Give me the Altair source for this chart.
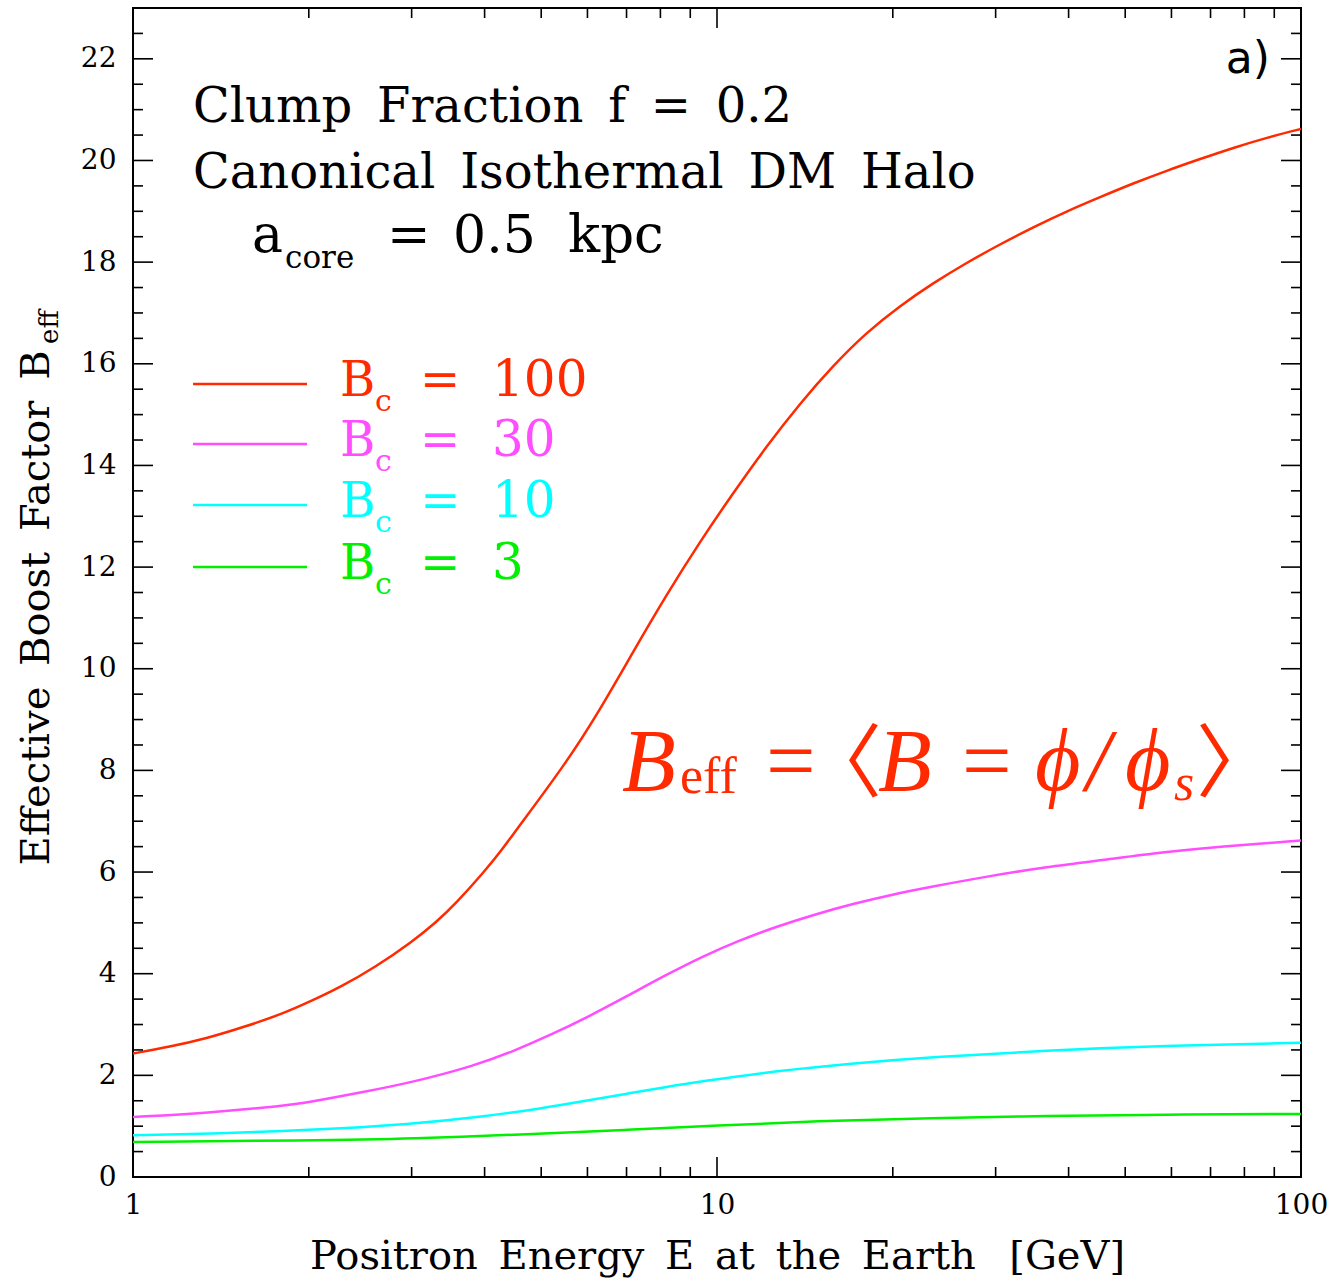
import altair as alt
import pandas as pd

# ---------------- curves: effective boost factor vs. positron energy ----------------
energy_100 = [1.0, 1.154, 1.341, 1.558, 1.812, 2.0, 2.27, 2.6, 3.0, 3.31, 3.57, 3.99, 4.27,
              4.54, 5.53, 6.31, 7.19, 8.2, 9.35, 10.66, 12.16, 13.87, 15.82, 18.04, 20.57,
              23.46, 26.77, 30.52, 34.81, 39.7, 45.3, 51.6, 58.9, 67.2, 76.6, 87.4, 100.0]
boost_100 = [2.43, 2.56, 2.73, 2.96, 3.22, 3.44, 3.74, 4.13, 4.62, 5.02, 5.38, 6.00, 6.42,
             6.84, 8.16, 9.20, 10.34, 11.46, 12.50, 13.46, 14.38, 15.22, 15.97, 16.62, 17.14,
             17.59, 17.99, 18.35, 18.69, 19.00, 19.28, 19.55, 19.80, 20.03, 20.25, 20.45, 20.62]

energy_30 = [1.0, 1.341, 1.812, 2.0, 2.45, 3.0, 3.85, 4.47, 5.2, 6.04, 7.02, 8.16, 9.49,
             10.88, 12.67, 14.75, 17.17, 19.98, 23.26, 29.2, 36.7, 46.1, 57.9, 72.7, 100.0]
boost_30 = [1.18, 1.26, 1.40, 1.47, 1.66, 1.86, 2.19, 2.47, 2.80, 3.16, 3.56, 3.97, 4.35,
            4.65, 4.93, 5.17, 5.38, 5.56, 5.71, 5.92, 6.10, 6.24, 6.39, 6.50, 6.62]

energy_10 = [1.0, 1.341, 2.0, 3.0, 3.99, 4.96, 6.04, 7.02, 8.16, 9.4, 12.67, 17.17, 23.26,
             36.7, 57.9, 100.0]
boost_10 = [0.82, 0.85, 0.92, 1.04, 1.19, 1.34, 1.51, 1.64, 1.77, 1.88, 2.09, 2.24, 2.36,
            2.49, 2.58, 2.64]

energy_3 = [1.0, 2.0, 3.0, 4.96, 7.02, 10.0, 14.75, 23.26, 36.7, 57.9, 100.0]
boost_3 = [0.69, 0.72, 0.75, 0.85, 0.93, 1.01, 1.10, 1.16, 1.20, 1.23, 1.24]

bc_values = ["100", "30", "10", "3"]
bc_colors = ["#ff2a00", "#ff4dff", "#00ffff", "#00f000"]

# ---------------- axis ticks ----------------
x_major = [1, 10, 100]
x_minor = [2, 3, 4, 5, 6, 7, 8, 9, 20, 30, 40, 50, 60, 70, 80, 90]
y_major = [0, 2, 4, 6, 8, 10, 12, 14, 16, 18, 20, 22]
y_minor = [0.5, 1, 1.5, 2.5, 3, 3.5, 4.5, 5, 5.5, 6.5, 7, 7.5, 8.5, 9, 9.5, 10.5, 11,
           11.5, 12.5, 13, 13.5, 14.5, 15, 15.5, 16.5, 17, 17.5, 18.5, 19, 19.5, 20.5,
           21, 21.5, 22.5]

W, H = 1168, 1169
SERIF = "DejaVu Serif"
MATH = "Liberation Serif"
BRACKET = "Noto Sans CJK TC"
RED = bc_colors[0]
GAP = "  \u2009"  # wide word gap

xs = alt.Scale(type="log", domain=[1, 100], nice=False)
ys = alt.Scale(domain=[0, 23], nice=False, zero=False)

curves = pd.concat([
    pd.DataFrame({"energy": energy_100, "boost": boost_100, "bc": "100"}),
    pd.DataFrame({"energy": energy_30, "boost": boost_30, "bc": "30"}),
    pd.DataFrame({"energy": energy_10, "boost": boost_10, "bc": "10"}),
    pd.DataFrame({"energy": energy_3, "boost": boost_3, "bc": "3"}),
])
color = alt.Color("bc:N", scale=alt.Scale(domain=bc_values, range=bc_colors), legend=None)

x_axis = alt.Axis(
    orient="bottom", values=x_major, format="d", grid=False, ticks=False, domain=False,
    labelFont=SERIF, labelFontSize=28, labelColor="black", labelPadding=14, labelFlush=False,
    title=GAP.join(["Positron", "Energy", "E", "at", "the", "Earth", " [GeV]"]),
    titleFont=SERIF, titleFontSize=40, titleFontWeight="normal", titleColor="black",
    titleX=584, titleY=91, titleBaseline="alphabetic", titleAlign="center",
)
y_axis = alt.Axis(
    orient="left", values=y_major, format="d", grid=False, ticks=False, domain=False,
    labelFont=SERIF, labelFontSize=28, labelColor="black", labelPadding=17, labelFlush=False,
    title=GAP.join(["Effective", "Boost", "Factor", "B"]),
    titleFont=SERIF, titleFontSize=40, titleFontWeight="normal", titleColor="black",
    titleAngle=270, titleX=-85, titleY=857, titleAlign="left", titleBaseline="alphabetic",
)

lines = alt.Chart(curves).mark_line(strokeWidth=2.5, interpolate="basis", clip=True).encode(
    x=alt.X("energy:Q", scale=xs, axis=x_axis),
    y=alt.Y("boost:Q", scale=ys, axis=y_axis),
    color=color,
)


# inward ticks on all four sides
def x_ticks(vals, length):
    df = pd.DataFrame({"v": vals})
    bottom = alt.Chart(df).mark_rule(color="black", strokeWidth=1.6).encode(
        x=alt.X("v:Q", scale=xs, axis=None), y=alt.value(H), y2=alt.value(H - length))
    top = alt.Chart(df).mark_rule(color="black", strokeWidth=1.6).encode(
        x=alt.X("v:Q", scale=xs, axis=None), y=alt.value(0), y2=alt.value(length))
    return [bottom, top]


def y_ticks(vals, length):
    df = pd.DataFrame({"v": vals})
    left = alt.Chart(df).mark_rule(color="black", strokeWidth=1.6).encode(
        y=alt.Y("v:Q", scale=ys, axis=None), x=alt.value(0), x2=alt.value(length))
    right = alt.Chart(df).mark_rule(color="black", strokeWidth=1.6).encode(
        y=alt.Y("v:Q", scale=ys, axis=None), x=alt.value(W - length), x2=alt.value(W))
    return [left, right]


ticks = x_ticks(x_major, 20) + x_ticks(x_minor, 10) + y_ticks(y_major, 20) + y_ticks(y_minor, 10)

# subscript of the y-axis title
y_sub = alt.Chart(pd.DataFrame({"t": ["eff"]})).mark_text(
    font=SERIF, fontSize=26, angle=270, align="left", baseline="alphabetic", color="black"
).encode(x=alt.value(-75), y=alt.value(336), text="t:N")


# text placed in data coordinates, nudged by pixel offsets
def label(x, y, text, size=48, dx=0, dy=0, font=SERIF, style="normal", col="black", align="left"):
    return alt.Chart(pd.DataFrame({"x": [x], "y": [y], "t": [text]})).mark_text(
        font=font, fontSize=size, fontStyle=style, align=align, baseline="alphabetic",
        dx=dx, dy=dy, color=col,
    ).encode(x=alt.X("x:Q", scale=xs, axis=None), y=alt.Y("y:Q", scale=ys, axis=None), text="t:N")


header = [
    label(1.267, 20.75, GAP.join(["Clump", "Fraction", "f", "=", "0.2"])),
    label(1.267, 19.45, GAP.join(["Canonical", "Isothermal", "DM", "Halo"])),
    label(1.599, 18.19, "a", size=52),
    label(1.599, 18.19, "core", size=31, dx=33, dy=16),
    label(1.599, 18.19, "=", size=52, dx=135),
    label(1.599, 18.19, "0.5", size=52, dx=201),
    label(1.599, 18.19, "kpc", size=53, dx=316),
    label(88.5, 21.73, "a)", size=44, font="DejaVu Sans", align="right"),
]

# hand-drawn key for the four clump boost factors
key = pd.DataFrame({"bc": bc_values, "row": [15.6, 14.42, 13.22, 12.0],
                    "x0": 1.267, "x1": 1.986, "xt": 2.262})
key_enc = dict(x=alt.X("xt:Q", scale=xs, axis=None), y=alt.Y("row:Q", scale=ys, axis=None), color=color)
key_lines = alt.Chart(key).mark_rule(strokeWidth=2.5).encode(
    x=alt.X("x0:Q", scale=xs, axis=None), x2="x1:Q", y=alt.Y("row:Q", scale=ys, axis=None), color=color)
key_b = alt.Chart(key).mark_text(font=SERIF, fontSize=48, align="left", baseline="alphabetic", dy=12).encode(
    text=alt.value("B"), **key_enc)
key_c = alt.Chart(key).mark_text(font=SERIF, fontSize=30, align="left", baseline="alphabetic", dx=35, dy=27).encode(
    text=alt.value("c"), **key_enc)
key_eq = alt.Chart(key).mark_text(font=SERIF, fontSize=48, align="left", baseline="alphabetic", dx=80, dy=12).encode(
    text=alt.value("="), **key_enc)
key_val = alt.Chart(key).mark_text(font=SERIF, fontSize=50, align="left", baseline="alphabetic", dx=152, dy=12).encode(
    text="bc:N", **key_enc)

# formula  B_eff = <B = phi/phi_s>
fx, fy = 6.877, 7.61
formula = [
    label(fx, fy, "B", size=88, font=MATH, style="italic", col=RED),
    label(fx, fy, "eff", size=52, dx=58, dy=3, font=MATH, col=RED),
    label(fx, fy, "=", size=88, dx=144, font=MATH, col=RED),
    label(fx, fy, "\u3008", size=80, dx=220, font=BRACKET, col=RED, align="center"),
    label(fx, fy, "B", size=88, dx=256, font=MATH, style="italic", col=RED),
    label(fx, fy, "=", size=88, dx=340, font=MATH, col=RED),
    label(fx, fy, "\u03d5", size=88, dx=413, font=MATH, style="italic", col=RED),
    label(fx, fy, "/", size=88, dx=464, font=MATH, style="italic", col=RED),
    label(fx, fy, "\u03d5", size=88, dx=503, font=MATH, style="italic", col=RED),
    label(fx, fy, "s", size=52, dx=552, dy=10, font=MATH, style="italic", col=RED),
    label(fx, fy, "\u3009", size=80, dx=614, font=BRACKET, col=RED, align="center"),
]

chart = alt.layer(
    lines, *ticks, y_sub, *header, key_lines, key_b, key_c, key_eq, key_val, *formula
).resolve_axis(
    x="independent", y="independent"
).properties(
    width=W, height=H,
    autosize=alt.AutoSizeParams(type="none"),
    padding={"left": 133, "top": 8, "right": 34, "bottom": 101},
).configure_view(stroke="black", strokeWidth=2)

chart.save("out.html", embed_options={"renderer": "svg", "actions": False})
